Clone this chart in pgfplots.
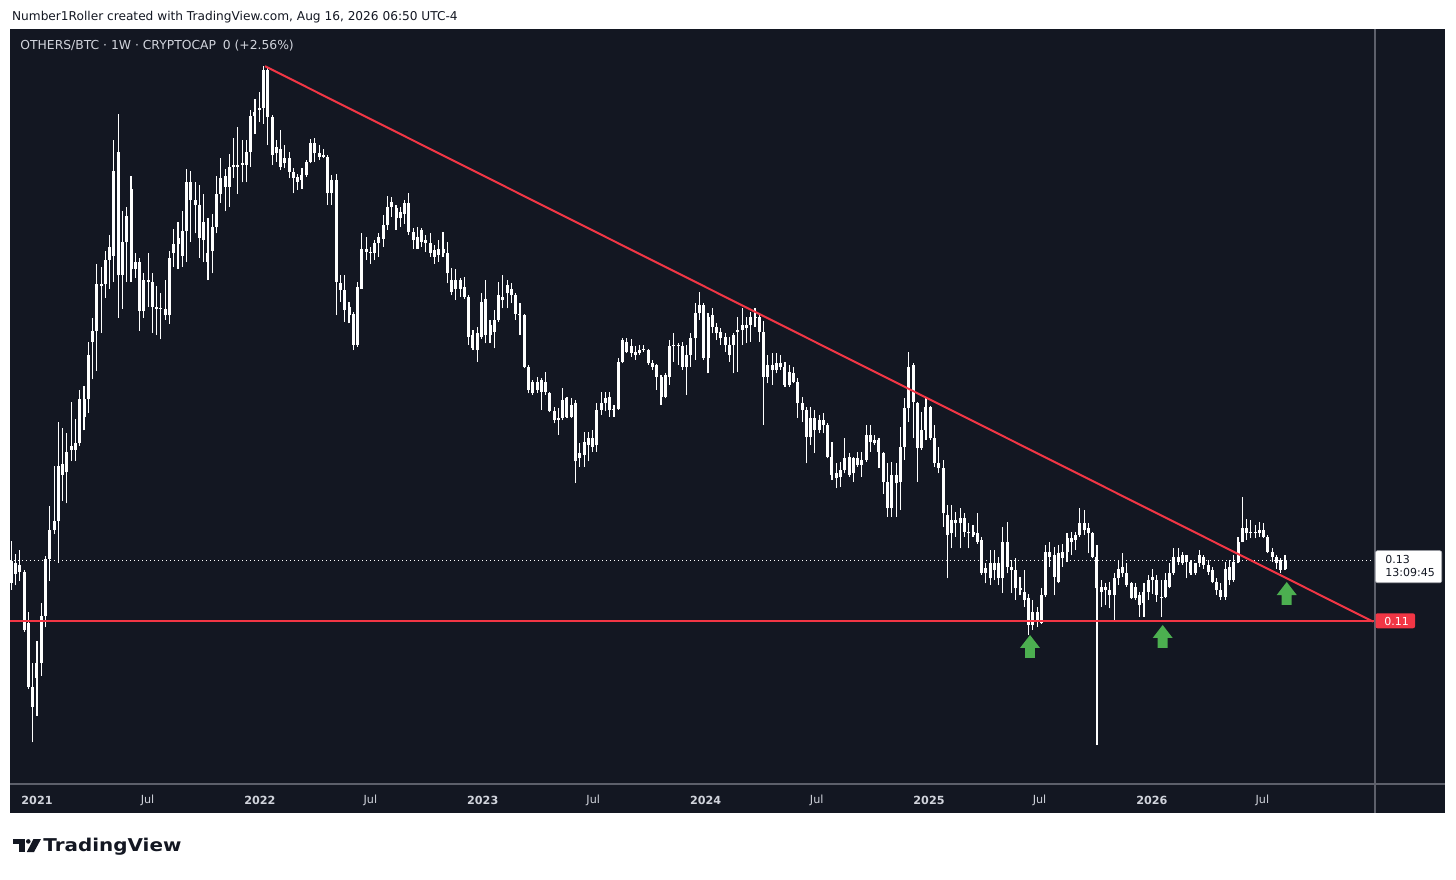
\documentclass[border=0pt]{standalone}
\usepackage{pgfplots}
\pgfplotsset{compat=1.18}
\usepackage{pgfplotstable}
\usepackage{graphicx}
\usepackage{fontspec}
\setmainfont{DejaVu Sans}
\definecolor{bg}{HTML}{131722}
\definecolor{tvtext}{HTML}{D1D4DC}
\definecolor{tvred}{HTML}{F23645}
\definecolor{tvgreen}{HTML}{4CAF50}
\definecolor{tvline}{HTML}{5D606B}

\pgfplotstableread{
w o h l c
-6 0.1225 0.1362 0.1203 0.1297
-5 0.1290 0.1319 0.1217 0.1254
-4 0.1261 0.1333 0.1232 0.1283
-3 0.1261 0.1268 0.1065 0.1072
-2 0.1094 0.1130 0.0876 0.0884
-1 0.0884 0.0963 0.0702 0.0818
0 0.0913 0.1036 0.0789 0.0963
1 0.0963 0.1159 0.0920 0.1116
2 0.1116 0.1312 0.1079 0.1304
3 0.1304 0.1478 0.1232 0.1399
4 0.1399 0.1609 0.1384 0.1428
5 0.1428 0.1754 0.1290 0.1609
6 0.1580 0.1732 0.1493 0.1616
7 0.1587 0.1718 0.1486 0.1653
8 0.1660 0.1819 0.1624 0.1674
9 0.1682 0.1761 0.1624 0.1660
10 0.1682 0.1856 0.1674 0.1827
11 0.1827 0.1870 0.1725 0.1769
12 0.1827 0.2015 0.1783 0.1972
13 0.2015 0.2095 0.1892 0.2052
14 0.2052 0.2269 0.1921 0.2204
15 0.2204 0.2262 0.2044 0.2197
16 0.2204 0.2313 0.2160 0.2284
17 0.2284 0.2364 0.2189 0.2327
18 0.2298 0.2676 0.2211 0.2574
19 0.2639 0.2763 0.2095 0.2233
20 0.2233 0.2443 0.2124 0.2342
21 0.2342 0.2458 0.2211 0.2429
22 0.2516 0.2559 0.2211 0.2255
23 0.2255 0.2306 0.2226 0.2277
24 0.2277 0.2291 0.2052 0.2117
25 0.2117 0.2240 0.2095 0.2218
26 0.2218 0.2306 0.2131 0.2211
27 0.2211 0.2240 0.2044 0.2131
28 0.2131 0.2197 0.2037 0.2124
29 0.2124 0.2175 0.2023 0.2127
30 0.2124 0.2218 0.2088 0.2102
31 0.2102 0.2313 0.2073 0.2291
32 0.2306 0.2385 0.2262 0.2335
33 0.2335 0.2407 0.2255 0.2356
34 0.2378 0.2443 0.2262 0.2298
35 0.2378 0.2581 0.2277 0.2538
36 0.2538 0.2574 0.2342 0.2480
37 0.2480 0.2538 0.2371 0.2465
38 0.2465 0.2530 0.2291 0.2356
39 0.2407 0.2501 0.2277 0.2349
40 0.2306 0.2422 0.2218 0.2277
41 0.2313 0.2436 0.2240 0.2393
42 0.2393 0.2559 0.2371 0.2501
43 0.2501 0.2618 0.2472 0.2552
44 0.2559 0.2581 0.2443 0.2523
45 0.2523 0.2632 0.2458 0.2588
46 0.2588 0.2683 0.2552 0.2596
47 0.2596 0.2719 0.2501 0.2588
48 0.2596 0.2676 0.2538 0.2603
49 0.2596 0.2676 0.2538 0.2639
50 0.2639 0.2777 0.2588 0.2755
51 0.2755 0.2813 0.2697 0.2770
52 0.2775 0.2835 0.2737 0.2781
53 0.2781 0.2919 0.2731 0.2906
54 0.2906 0.2917 0.2660 0.2753
55 0.2753 0.2759 0.2595 0.2627
56 0.2633 0.2677 0.2606 0.2655
57 0.2649 0.2709 0.2578 0.2589
58 0.2600 0.2660 0.2584 0.2617
59 0.2617 0.2638 0.2551 0.2573
60 0.2573 0.2584 0.2502 0.2551
61 0.2540 0.2567 0.2513 0.2556
62 0.2546 0.2584 0.2518 0.2562
63 0.2562 0.2611 0.2556 0.2606
64 0.2606 0.2679 0.2600 0.2668
65 0.2666 0.2682 0.2606 0.2633
66 0.2633 0.2660 0.2611 0.2622
67 0.2622 0.2649 0.2617 0.2627
68 0.2622 0.2627 0.2464 0.2502
69 0.2502 0.2562 0.2464 0.2546
70 0.2546 0.2567 0.2103 0.2212
71 0.2207 0.2234 0.2147 0.2185
72 0.2185 0.2234 0.2081 0.2119
73 0.2130 0.2147 0.2076 0.2103
74 0.2108 0.2114 0.1988 0.2005
75 0.2005 0.2212 0.1999 0.2196
76 0.2190 0.2371 0.2190 0.2321
77 0.2321 0.2360 0.2283 0.2311
78 0.2311 0.2327 0.2272 0.2305
79 0.2305 0.2349 0.2283 0.2340
80 0.2338 0.2371 0.2294 0.2360
81 0.2354 0.2431 0.2327 0.2398
82 0.2398 0.2493 0.2382 0.2458
83 0.2458 0.2491 0.2425 0.2474
84 0.2453 0.2464 0.2382 0.2420
85 0.2420 0.2458 0.2393 0.2442
86 0.2436 0.2480 0.2403 0.2469
87 0.2469 0.2502 0.2365 0.2376
88 0.2376 0.2387 0.2321 0.2349
89 0.2321 0.2393 0.2321 0.2360
90 0.2382 0.2387 0.2327 0.2343
91 0.2349 0.2365 0.2311 0.2338
92 0.2338 0.2371 0.2294 0.2305
93 0.2316 0.2332 0.2272 0.2294
94 0.2300 0.2349 0.2278 0.2321
95 0.2305 0.2376 0.2294 0.2321
96 0.2305 0.2343 0.2207 0.2240
97 0.2218 0.2256 0.2168 0.2179
98 0.2190 0.2253 0.2152 0.2218
99 0.2218 0.2223 0.2163 0.2190
100 0.2196 0.2229 0.2157 0.2163
101 0.2163 0.2168 0.2005 0.2032
102 0.2037 0.2054 0.1988 0.1994
103 0.1988 0.2065 0.1950 0.2043
104 0.2032 0.2174 0.2026 0.2147
105 0.2157 0.2218 0.2010 0.2037
106 0.2037 0.2087 0.2010 0.2070
107 0.2087 0.2119 0.1994 0.2048
108 0.2087 0.2212 0.2081 0.2168
109 0.2163 0.2234 0.2125 0.2152
110 0.2174 0.2218 0.2125 0.2201
111 0.2187 0.2207 0.2141 0.2168
112 0.2168 0.2174 0.2087 0.2108
113 0.2106 0.2141 0.2037 0.2103
114 0.2103 0.2108 0.1928 0.1934
115 0.1934 0.1939 0.1846 0.1857
116 0.1847 0.1890 0.1841 0.1885
117 0.1885 0.1901 0.1847 0.1858
118 0.1852 0.1896 0.1792 0.1890
119 0.1885 0.1918 0.1841 0.1852
120 0.1847 0.1852 0.1784 0.1787
121 0.1787 0.1803 0.1748 0.1759
122 0.1759 0.1797 0.1710 0.1765
123 0.1765 0.1863 0.1759 0.1825
124 0.1830 0.1836 0.1765 0.1770
125 0.1770 0.1830 0.1765 0.1808
126 0.1814 0.1825 0.1552 0.1623
127 0.1634 0.1683 0.1606 0.1650
128 0.1644 0.1721 0.1606 0.1688
129 0.1677 0.1721 0.1623 0.1699
130 0.1699 0.1726 0.1655 0.1672
131 0.1677 0.1814 0.1655 0.1792
132 0.1792 0.1852 0.1776 0.1814
133 0.1814 0.1852 0.1787 0.1830
134 0.1836 0.1852 0.1770 0.1792
135 0.1792 0.1808 0.1770 0.1794
136 0.1794 0.1961 0.1792 0.1950
137 0.1950 0.2027 0.1945 0.2021
138 0.2016 0.2027 0.1978 0.1983
139 0.1980 0.2024 0.1967 0.2002
140 0.1983 0.2000 0.1956 0.1972
141 0.1980 0.2005 0.1972 0.1989
142 0.1989 0.2005 0.1983 0.1992
143 0.1989 0.1991 0.1940 0.1945
144 0.1945 0.1956 0.1923 0.1934
145 0.1940 0.1942 0.1858 0.1901
146 0.1901 0.1907 0.1808 0.1836
147 0.1836 0.1912 0.1830 0.1907
148 0.1901 0.2021 0.1874 0.2000
149 0.2000 0.2043 0.1950 0.2005
150 0.2005 0.2011 0.1940 0.2002
151 0.2000 0.2016 0.1923 0.1934
152 0.1934 0.2005 0.1841 0.1972
153 0.1972 0.2043 0.1934 0.2027
154 0.2027 0.2142 0.1956 0.2109
155 0.2109 0.2180 0.2087 0.2136
156 0.2136 0.2142 0.1956 0.1961
157 0.1961 0.2109 0.1912 0.2098
158 0.2103 0.2125 0.2043 0.2065
159 0.2065 0.2076 0.2021 0.2043
160 0.2049 0.2060 0.2005 0.2027
161 0.2032 0.2043 0.1983 0.2005
162 0.2005 0.2032 0.1950 0.1972
163 0.2005 0.2043 0.1912 0.2038
164 0.2049 0.2098 0.1918 0.2054
165 0.2054 0.2125 0.2005 0.2071
166 0.2071 0.2098 0.2011 0.2060
167 0.2071 0.2114 0.2016 0.2098
168 0.2098 0.2125 0.2065 0.2093
169 0.2098 0.2109 0.2016 0.2049
170 0.2049 0.2082 0.1743 0.1901
171 0.1901 0.1972 0.1879 0.1940
172 0.1940 0.1978 0.1874 0.1923
173 0.1923 0.1978 0.1912 0.1945
174 0.1945 0.1972 0.1923 0.1934
175 0.1934 0.1950 0.1868 0.1874
176 0.1874 0.1940 0.1868 0.1918
177 0.1912 0.1934 0.1879 0.1885
178 0.1885 0.1896 0.1765 0.1814
179 0.1814 0.1835 0.1753 0.1792
180 0.1792 0.1803 0.1617 0.1704
181 0.1704 0.1803 0.1677 0.1764
182 0.1764 0.1792 0.1650 0.1726
183 0.1726 0.1775 0.1715 0.1759
184 0.1759 0.1781 0.1715 0.1743
185 0.1743 0.1748 0.1633 0.1639
186 0.1639 0.1688 0.1562 0.1579
187 0.1568 0.1617 0.1535 0.1584
188 0.1573 0.1622 0.1540 0.1595
189 0.1595 0.1699 0.1584 0.1633
190 0.1639 0.1650 0.1573 0.1579
191 0.1584 0.1639 0.1557 0.1633
192 0.1633 0.1655 0.1606 0.1611
193 0.1611 0.1655 0.1573 0.1628
194 0.1628 0.1743 0.1622 0.1710
195 0.1710 0.1743 0.1655 0.1688
196 0.1682 0.1710 0.1677 0.1693
197 0.1693 0.1699 0.1600 0.1655
198 0.1650 0.1655 0.1518 0.1557
199 0.1557 0.1617 0.1442 0.1469
200 0.1469 0.1622 0.1442 0.1579
201 0.1579 0.1617 0.1442 0.1551
202 0.1557 0.1737 0.1464 0.1671
203 0.1671 0.1830 0.1628 0.1797
204 0.1797 0.1983 0.1753 0.1934
205 0.1939 0.1945 0.1699 0.1819
206 0.1814 0.1819 0.1557 0.1666
207 0.1666 0.1786 0.1661 0.1726
208 0.1726 0.1830 0.1693 0.1803
209 0.1803 0.1806 0.1693 0.1699
210 0.1699 0.1743 0.1606 0.1617
211 0.1617 0.1671 0.1584 0.1600
212 0.1600 0.1628 0.1409 0.1453
213 0.1447 0.1480 0.1240 0.1382
214 0.1387 0.1480 0.1338 0.1431
215 0.1431 0.1458 0.1376 0.1420
216 0.1420 0.1469 0.1338 0.1437
217 0.1437 0.1453 0.1376 0.1393
218 0.1393 0.1420 0.1338 0.1387
219 0.1393 0.1415 0.1376 0.1382
220 0.1387 0.1453 0.1354 0.1360
221 0.1365 0.1376 0.1251 0.1256
222 0.1256 0.1289 0.1223 0.1273
223 0.1289 0.1333 0.1218 0.1240
224 0.1267 0.1333 0.1234 0.1289
225 0.1289 0.1311 0.1218 0.1240
226 0.1240 0.1409 0.1191 0.1360
227 0.1360 0.1426 0.1256 0.1278
228 0.1278 0.1300 0.1191 0.1267
229 0.1267 0.1305 0.1169 0.1207
230 0.1207 0.1245 0.1185 0.1201
231 0.1196 0.1267 0.1147 0.1169
232 0.1174 0.1190 0.1054 0.1087
233 0.1087 0.1169 0.1070 0.1130
234 0.1130 0.1147 0.1081 0.1098
235 0.1092 0.1207 0.1090 0.1185
236 0.1185 0.1349 0.1179 0.1327
237 0.1327 0.1360 0.1278 0.1311
238 0.1316 0.1343 0.1185 0.1245
239 0.1229 0.1349 0.1223 0.1322
240 0.1305 0.1354 0.1278 0.1327
241 0.1327 0.1387 0.1294 0.1371
242 0.1371 0.1393 0.1316 0.1360
243 0.1365 0.1393 0.1332 0.1382
244 0.1382 0.1469 0.1376 0.1420
245 0.1420 0.1464 0.1382 0.1398
246 0.1404 0.1420 0.1322 0.1387
247 0.1387 0.1393 0.1305 0.1311
248 0.1311 0.1349 0.0693 0.1207
249 0.1196 0.1234 0.1147 0.1212
250 0.1212 0.1223 0.1152 0.1201
251 0.1201 0.1229 0.1141 0.1185
252 0.1185 0.1256 0.1098 0.1240
253 0.1240 0.1300 0.1218 0.1272
254 0.1256 0.1322 0.1245 0.1278
255 0.1256 0.1289 0.1212 0.1218
256 0.1223 0.1229 0.1172 0.1174
257 0.1174 0.1223 0.1169 0.1212
258 0.1185 0.1196 0.1114 0.1152
259 0.1158 0.1223 0.1114 0.1196
260 0.1196 0.1251 0.1169 0.1234
261 0.1234 0.1272 0.1190 0.1245
262 0.1234 0.1251 0.1163 0.1185
263 0.1179 0.1234 0.1114 0.1174
264 0.1179 0.1256 0.1174 0.1234
265 0.1212 0.1289 0.1207 0.1256
266 0.1256 0.1338 0.1251 0.1311
267 0.1311 0.1338 0.1283 0.1294
268 0.1289 0.1327 0.1283 0.1316
269 0.1316 0.1318 0.1240 0.1294
270 0.1294 0.1300 0.1251 0.1256
271 0.1256 0.1291 0.1251 0.1289
272 0.1289 0.1332 0.1278 0.1316
273 0.1311 0.1316 0.1272 0.1283
274 0.1283 0.1300 0.1251 0.1261
275 0.1267 0.1278 0.1223 0.1229
276 0.1229 0.1240 0.1185 0.1201
277 0.1201 0.1223 0.1169 0.1179
278 0.1179 0.1294 0.1169 0.1272
279 0.1234 0.1300 0.1218 0.1278
280 0.1294 0.1316 0.1229 0.1234
281 0.1294 0.1376 0.1289 0.1360
282 0.1360 0.1507 0.1358 0.1404
283 0.1404 0.1436 0.1365 0.1387
284 0.1387 0.1431 0.1371 0.1393
285 0.1393 0.1414 0.1371 0.1387
286 0.1387 0.1425 0.1376 0.1398
287 0.1398 0.1420 0.1371 0.1376
288 0.1376 0.1382 0.1322 0.1327
289 0.1327 0.1338 0.1294 0.1311
290 0.1311 0.1316 0.1272 0.1289
291 0.1300 0.1305 0.1256 0.1267
292 0.1272 0.1316 0.1267 0.1300
}\candles

\begin{document}
\begin{tikzpicture}
\fill[white] (0,0) rectangle (728pt,439.5pt);
\useasboundingbox (0,0) rectangle (728pt,439.5pt);
% panel background (pixel coordinates)
\begin{scope}[x=0.5pt,y=-0.5pt,yshift=439.5pt]
  \fill[bg] (10,29.5) rectangle (1445,813);
\end{scope}

\begin{axis}[
  at={(5pt,47.5pt)}, anchor=south west,
  scale only axis, width=682.25pt, height=377.25pt,
  xmin=-6.317, xmax=312.94, ymin=0.056557, ymax=0.303934,
  axis line style={draw=none},
  ytick=\empty,
  xtick={0,25.86,52.14,78.0,104.29,130.14,156.43,182.43,208.71,234.57,260.86,286.71},
  xticklabels={\textbf{2021},Jul,\textbf{2022},Jul,\textbf{2023},Jul,\textbf{2024},Jul,\textbf{2025},Jul,\textbf{2026},Jul},
  major tick length=0pt,
  xticklabel style={anchor=center, yshift=-8pt, font=\fontsize{5.6}{6}\selectfont, text=tvtext, inner sep=0pt},
  clip=true,
]
% last price dotted line
\addplot[white, line width=0.5pt, dash pattern=on 0.5pt off 1.5pt, forget plot] coordinates {(-6.317,0.13) (312.94,0.13)};
% wicks
\addplot[forget plot, draw=none, mark=none,
  error bars/.cd, y dir=plus, y explicit, error mark=none,
  error bar style={draw=white, solid, line width=0.55pt}]
  table[x=w, y=l, y error expr=\thisrow{h}-\thisrow{l}] {\candles};
% bodies
\addplot[forget plot, draw=none, mark=none,
  error bars/.cd, y dir=plus, y explicit, error mark=none,
  error bar style={draw=white, solid, line width=1.5pt}]
  table[x=w, y expr={min(\thisrow{o},\thisrow{c})}, y error expr={abs(\thisrow{c}-\thisrow{o})}] {\candles};
% support line and descending trend line
\addplot[tvred, line width=1pt, forget plot] coordinates {(-6.317,0.11) (312.94,0.11)};
\addplot[tvred, line width=1pt, forget plot] coordinates {(53.35,0.2919) (312.6,0.1098)};
% green arrows
\addplot[fill=tvgreen, draw=none, forget plot] coordinates {(232.34,0.10541) (234.67,0.10115) (233.50,0.10115) (233.50,0.09787) (231.17,0.09787) (231.17,0.10115) (229.99,0.10115)};
\addplot[fill=tvgreen, draw=none, forget plot] coordinates {(263.38,0.10869) (265.72,0.10443) (264.55,0.10443) (264.55,0.10115) (262.21,0.10115) (262.21,0.10443) (261.04,0.10443)};
\addplot[fill=tvgreen, draw=none, forget plot] coordinates {(292.40,0.12279) (294.74,0.11852) (293.57,0.11852) (293.57,0.11525) (291.23,0.11525) (291.23,0.11852) (290.06,0.11852)};
\end{axis}

\begin{scope}[x=0.5pt,y=-0.5pt,yshift=439.5pt]
  % separators
  \draw[tvline, line width=1pt] (1374.7,29.5) -- (1374.7,813);
  \draw[tvline, line width=1pt] (10,784.3) -- (1445,784.3);
  % header
  \node[anchor=base west, inner sep=0pt, text=bg] at (11.7,20.7)
    {\resizebox{222.8pt}{!}{\fontsize{6}{7}\selectfont Number1Roller created with TradingView.com, Aug 16, 2026 06:50 UTC-4}};
  % panel title
  \node[anchor=base west, inner sep=0pt, text=tvtext] at (20,50)
    {\resizebox{136.7pt}{!}{\fontsize{6}{7}\selectfont OTHERS/BTC · 1W · CRYPTOCAP\hspace{0.55em}0 (+2.56\%)}};
  % price labels
  \draw[fill=white, draw=tvline!50, line width=0.3pt, rounded corners=1pt] (1375.5,550.7) rectangle (1441.7,582.7);
  \node[anchor=base west, inner sep=0pt, text=bg, font=\fontsize{5.5}{6}\selectfont] at (1385,563.3) {0.13};
  \node[anchor=base west, inner sep=0pt, text=bg, font=\fontsize{5.5}{6}\selectfont] at (1385,576.7) {13:09:45};
  \fill[tvred, rounded corners=1pt] (1375.5,613.3) rectangle (1415,628.3);
  \node[anchor=base west, inner sep=0pt, text=white, font=\fontsize{5.5}{6}\selectfont] at (1384,625.5) {0.11};
  % footer logo
  \fill[bg] (13.3,839) rectangle (25,843.7);
  \fill[bg] (18.5,839) rectangle (25,852);
  \fill[bg] (28.3,841.4) circle (2.3);
  \fill[bg] (33.5,839) -- (41,839) -- (34,852) -- (26.8,852) -- cycle;
  \node[anchor=base west, inner sep=0pt, text=bg] at (43,851.7)
    {\resizebox{69pt}{6.7pt}{\bfseries TradingView}};
\end{scope}
\end{tikzpicture}
\end{document}
